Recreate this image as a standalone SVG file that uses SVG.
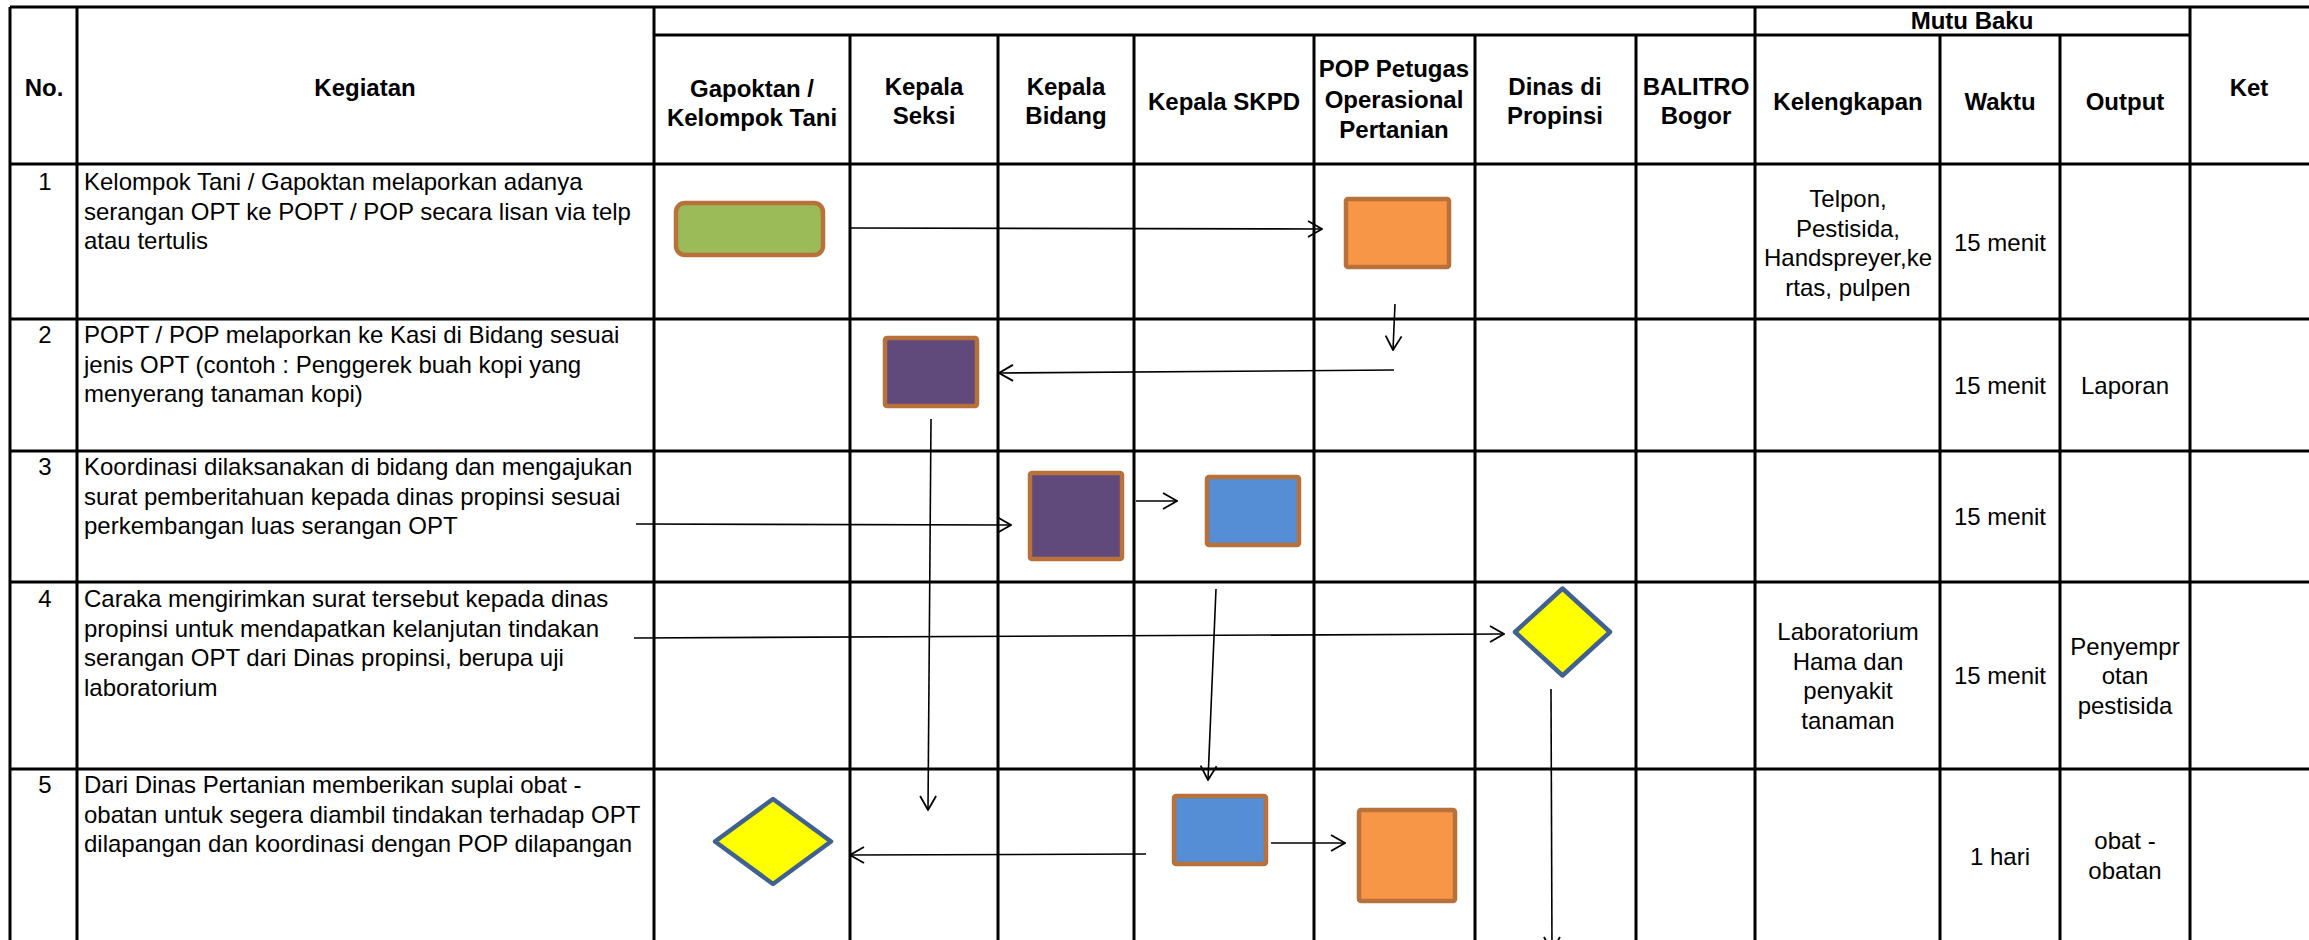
<svg xmlns="http://www.w3.org/2000/svg" width="2309" height="940" viewBox="0 0 2309 940">
<defs>
<style>
.g{stroke:#000;stroke-width:3;fill:none}
.h{font-family:"Liberation Sans",Arial,sans-serif;font-size:24px;font-weight:bold;fill:#000;text-anchor:middle}
.t{font-family:"Liberation Sans",Arial,sans-serif;font-size:24px;fill:#000}
.c{text-anchor:middle}
.cn{stroke:#000;stroke-width:1.6;fill:none;marker-end:url(#ah)}
.brd{stroke:#B8713A;stroke-width:4.5}
.dia{fill:#FFFF00;stroke:#41628F;stroke-width:4.5;stroke-linejoin:round}
</style>
<marker id="ah" viewBox="0 0 16 18" refX="15" refY="9" markerWidth="16" markerHeight="18" markerUnits="userSpaceOnUse" orient="auto">
<path d="M1,1 L15,9 L1,17" fill="none" stroke="#000" stroke-width="1.8"/>
</marker>
</defs>
<rect x="0" y="0" width="2309" height="940" fill="#fff"/>

<g id="grid">
<line class="g" x1="10" y1="7" x2="2309" y2="7"/>
<line class="g" x1="654" y1="35" x2="2190" y2="35"/>
<line class="g" x1="10" y1="164" x2="2309" y2="164"/>
<line class="g" x1="10" y1="319" x2="2309" y2="319"/>
<line class="g" x1="10" y1="451" x2="2309" y2="451"/>
<line class="g" x1="10" y1="582" x2="2309" y2="582"/>
<line class="g" x1="10" y1="769" x2="2309" y2="769"/>
<line class="g" x1="10" y1="7" x2="10" y2="940"/>
<line class="g" x1="77" y1="7" x2="77" y2="940"/>
<line class="g" x1="654" y1="7" x2="654" y2="940"/>
<line class="g" x1="850" y1="35" x2="850" y2="940"/>
<line class="g" x1="998" y1="35" x2="998" y2="940"/>
<line class="g" x1="1134" y1="35" x2="1134" y2="940"/>
<line class="g" x1="1314" y1="35" x2="1314" y2="940"/>
<line class="g" x1="1475" y1="35" x2="1475" y2="940"/>
<line class="g" x1="1636" y1="35" x2="1636" y2="940"/>
<line class="g" x1="1755" y1="7" x2="1755" y2="940"/>
<line class="g" x1="1940" y1="35" x2="1940" y2="940"/>
<line class="g" x1="2060" y1="35" x2="2060" y2="940"/>
<line class="g" x1="2190" y1="7" x2="2190" y2="940"/>
</g>

<g id="header">
<text class="h" x="44" y="96">No.</text>
<text class="h" x="365" y="96">Kegiatan</text>
<text class="h" x="752" y="97">Gapoktan /</text>
<text class="h" x="752" y="126">Kelompok Tani</text>
<text class="h" x="924" y="95">Kepala</text>
<text class="h" x="924" y="124">Seksi</text>
<text class="h" x="1066" y="95">Kepala</text>
<text class="h" x="1066" y="124">Bidang</text>
<text class="h" x="1224" y="110">Kepala SKPD</text>
<text class="h" x="1394" y="77">POP Petugas</text>
<text class="h" x="1394" y="108">Operasional</text>
<text class="h" x="1394" y="138">Pertanian</text>
<text class="h" x="1555" y="95">Dinas di</text>
<text class="h" x="1555" y="124">Propinsi</text>
<text class="h" x="1696" y="95">BALITRO</text>
<text class="h" x="1696" y="124">Bogor</text>
<text class="h" x="1972" y="29">Mutu Baku</text>
<text class="h" x="1848" y="110">Kelengkapan</text>
<text class="h" x="2000" y="110">Waktu</text>
<text class="h" x="2125" y="110">Output</text>
<text class="h" x="2249" y="96">Ket</text>
</g>

<g id="row1">
<text class="t c" x="45" y="190">1</text>
<text class="t" x="84" y="190">Kelompok Tani / Gapoktan melaporkan adanya</text>
<text class="t" x="84" y="219.5">serangan OPT ke POPT / POP secara lisan via telp</text>
<text class="t" x="84" y="249">atau tertulis</text>
<text class="t c" x="1848" y="207">Telpon,</text>
<text class="t c" x="1848" y="236.5">Pestisida,</text>
<text class="t c" x="1848" y="266">Handspreyer,ke</text>
<text class="t c" x="1848" y="295.5">rtas, pulpen</text>
<text class="t c" x="2000" y="251">15 menit</text>
</g>

<g id="row2">
<text class="t c" x="45" y="343">2</text>
<text class="t" x="84" y="343">POPT / POP melaporkan ke Kasi di Bidang sesuai</text>
<text class="t" x="84" y="372.5">jenis OPT (contoh : Penggerek buah kopi yang</text>
<text class="t" x="84" y="402">menyerang tanaman kopi)</text>
<text class="t c" x="2000" y="393.5">15 menit</text>
<text class="t c" x="2125" y="393.5">Laporan</text>
</g>

<g id="row3">
<text class="t c" x="45" y="475">3</text>
<text class="t" x="84" y="475">Koordinasi dilaksanakan di bidang dan mengajukan</text>
<text class="t" x="84" y="504.5">surat pemberitahuan kepada dinas propinsi sesuai</text>
<text class="t" x="84" y="534">perkembangan luas serangan OPT</text>
<text class="t c" x="2000" y="525">15 menit</text>
</g>

<g id="row4">
<text class="t c" x="45" y="607">4</text>
<text class="t" x="84" y="607">Caraka mengirimkan surat tersebut kepada dinas</text>
<text class="t" x="84" y="636.5">propinsi untuk mendapatkan kelanjutan tindakan</text>
<text class="t" x="84" y="666">serangan OPT dari Dinas propinsi, berupa uji</text>
<text class="t" x="84" y="695.5">laboratorium</text>
<text class="t c" x="1848" y="640">Laboratorium</text>
<text class="t c" x="1848" y="669.5">Hama dan</text>
<text class="t c" x="1848" y="699">penyakit</text>
<text class="t c" x="1848" y="728.5">tanaman</text>
<text class="t c" x="2000" y="684">15 menit</text>
<text class="t c" x="2125" y="654.5">Penyempr</text>
<text class="t c" x="2125" y="684">otan</text>
<text class="t c" x="2125" y="713.5">pestisida</text>
</g>

<g id="row5">
<text class="t c" x="45" y="793">5</text>
<text class="t" x="84" y="793">Dari Dinas Pertanian memberikan suplai obat -</text>
<text class="t" x="84" y="822.5">obatan untuk segera diambil tindakan terhadap OPT</text>
<text class="t" x="84" y="852">dilapangan dan koordinasi dengan POP dilapangan</text>
<text class="t c" x="2000" y="865">1 hari</text>
<text class="t c" x="2125" y="849">obat -</text>
<text class="t c" x="2125" y="879">obatan</text>
</g>

<g id="n-start"><rect class="brd" x="676" y="203" width="147" height="52" rx="9" fill="#9BBB59"/></g>
<g id="n-pop1"><rect class="brd" x="1346" y="199" width="103" height="68" rx="2" fill="#F79646"/></g>
<g id="n-seksi"><rect class="brd" x="885" y="338" width="92" height="68" rx="2" fill="#604A7B"/></g>
<g id="n-bidang"><rect class="brd" x="1030" y="473" width="92" height="86" rx="2" fill="#604A7B"/></g>
<g id="n-skpd1"><rect class="brd" x="1207" y="477" width="92" height="68" rx="2" fill="#558ED5"/></g>
<g id="n-dinas"><path class="dia" d="M1562.5,588.5 L1610,632 L1562.5,675.5 L1515,632 Z"/></g>
<g id="n-gapoktan"><path class="dia" d="M773,799 L831,841.5 L773,884 L715,841.5 Z"/></g>
<g id="n-skpd2"><rect class="brd" x="1174" y="796" width="92" height="68" rx="2" fill="#558ED5"/></g>
<g id="n-pop2"><rect class="brd" x="1359" y="810" width="96" height="91" rx="2" fill="#F79646"/></g>

<g id="connectors">
<line class="cn" x1="849" y1="228" x2="1322" y2="229"/>
<line class="cn" x1="1395" y1="304" x2="1393" y2="350"/>
<line class="cn" x1="1394" y1="370" x2="999" y2="373"/>
<line class="cn" x1="931" y1="419" x2="928" y2="810"/>
<line class="cn" x1="636" y1="524" x2="1011" y2="525"/>
<line class="cn" x1="1136" y1="501" x2="1177" y2="501"/>
<line class="cn" x1="634" y1="638" x2="1504" y2="634"/>
<line class="cn" x1="1216" y1="589" x2="1208" y2="780"/>
<line class="cn" x1="1551" y1="689" x2="1552" y2="951"/>
<line class="cn" x1="1146" y1="854" x2="850" y2="855"/>
<line class="cn" x1="1271" y1="843" x2="1345" y2="843"/>
</g>
</svg>
